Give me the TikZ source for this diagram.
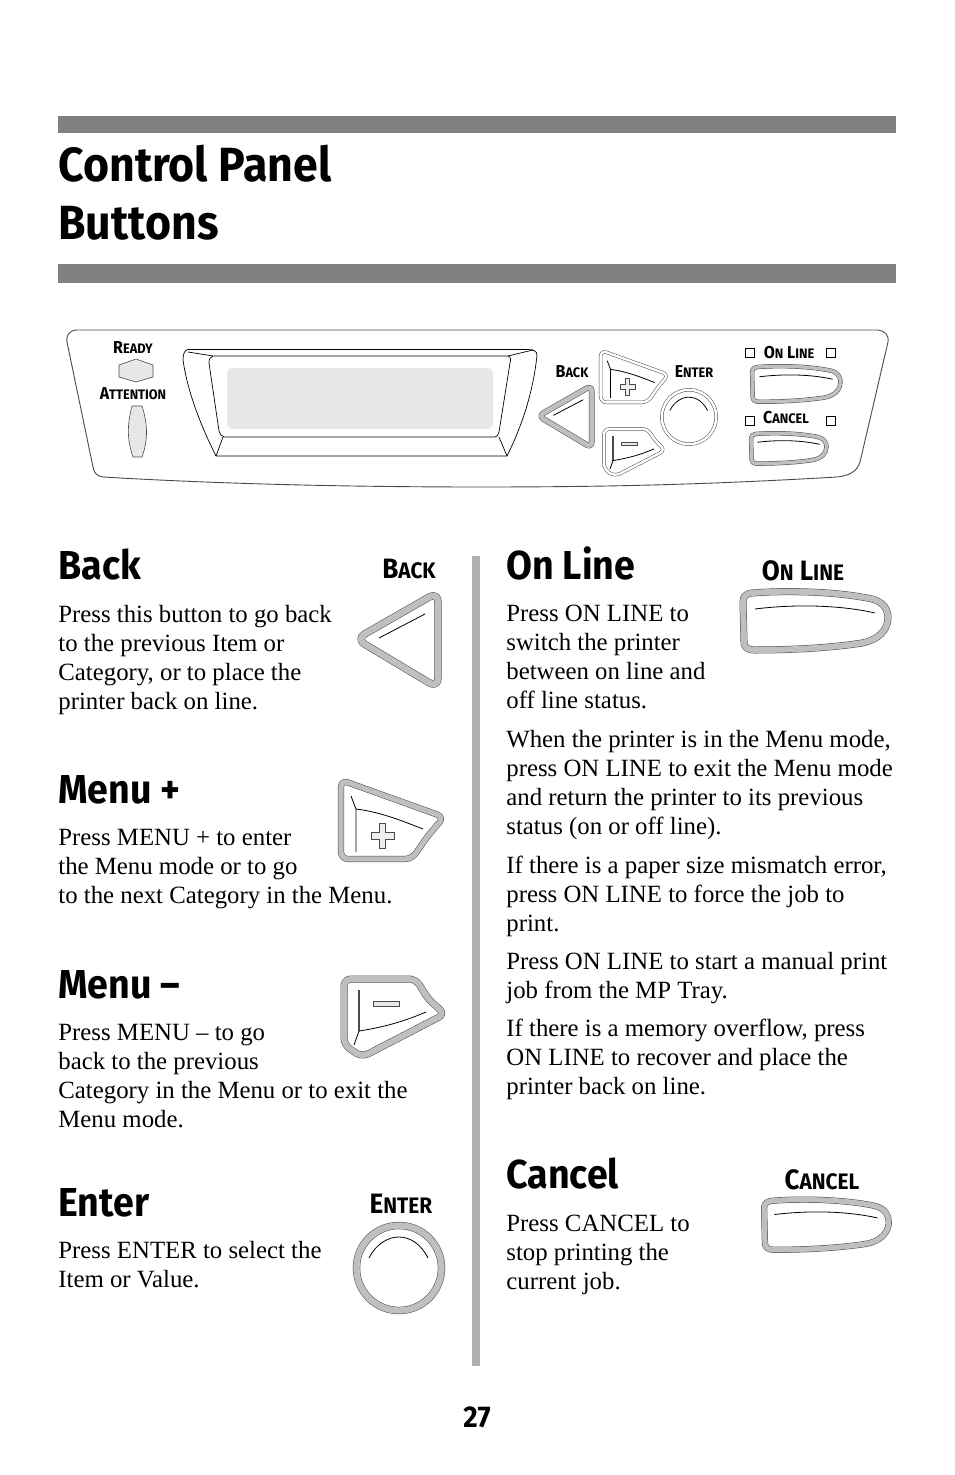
\documentclass[tikz,border=0pt]{standalone}
\usepackage{fontspec}
\setmainfont{Liberation Serif}
\newfontfamily\headfont[FakeStretch=.93]{Fira Sans}
\usepackage{xcolor}
\usepackage{tikz}
\usetikzlibrary{positioning,calc}

\definecolor{bargray}{HTML}{808080}
\definecolor{rulegray}{HTML}{B0B0B0}
\definecolor{ringgray}{HTML}{BDBFC1}
\definecolor{lcdgray}{HTML}{E6E7E8}
\definecolor{edgegray}{HTML}{4A4A4A}
\colorlet{ringcol}{ringgray}

\newcommand{\smcap}[2]{#1\scalebox{.8}{#2}}

\tikzset{
	bar/.style={fill=bargray, draw=none},
	mainhead/.style={anchor=base west, inner sep=0, font=\headfont\bfseries\fontsize{24}{30}\selectfont},
	subhead/.style={anchor=base west, inner sep=0, font=\headfont\bfseries\fontsize{20.2}{24}\selectfont},
	bodytext/.style={anchor=north west, inner sep=0, align=left, font=\fontsize{12.4}{14.5}\selectfont, execute at begin node=\strut},
	biglabel/.style={inner sep=0, font=\headfont\bfseries\fontsize{14}{16}\selectfont},
	panellabel/.style={inner sep=0, font=\headfont\bfseries\fontsize{8.6}{10}\selectfont},
	btnring/.style={draw=edgegray, line width=.25pt, double=ringcol, line join=round, fill=white},
	btnline/.style={draw=black, line width=.4pt},
	led/.style={draw=edgegray, line width=.3pt, fill=lcdgray},
	ledbox/.style={draw=black, line width=.35pt, fill=white},
	pics/backbtn/.style 2 args={code={
		\draw[btnring, double distance=#1, rounded corners=#2] (-44,0) -- (38,-47) -- (38,49) -- cycle;
		\draw[btnline] (-21,-1) -- (25,-25);
	}},
	pics/plusbtn/.style 2 args={code={
		\draw[btnring, double distance=#1, rounded corners=#2] (-49,-42) -- (54,-5) -- (37,15) -- (22,37) -- (-49,37) -- cycle;
		\draw[btnline] (-39,-26) -- (-34,-13) -- (-34,30);
		\draw[btnline] (-34,-13) .. controls (-10,-10) and (10,-2) .. (33,7);
		\draw[led, fill=lcdgray!70] (-19,10) -- (-11,10) -- (-11,1) -- (-5,1) -- (-5,10) -- (4,10) -- (4,17) -- (-5,17) -- (-5,26) -- (-11,26) -- (-11,17) -- (-19,17) -- cycle;
	}},
	pics/minusbtn/.style 2 args={code={
		\draw[btnring, double distance=#1, rounded corners=#2] (-51,-38) -- (21,-38) -- (33,-18) -- (50,-3) -- (-33,40) -- (-51,28) -- cycle;
		\draw[btnline, line width=.6pt, draw=edgegray] (-36,-27) -- (-36,14);
		\draw[btnline] (-36,14) -- (-41,28);
		\draw[btnline] (-36,14) .. controls (-10,10) and (10,4) .. (31,-5);
		\draw[led] (-22,-16) rectangle (4,-11);
	}},
	pics/enterbtn/.style={code={
		\draw[btnring, double distance=#1] (0,0) circle (42.5);
		\draw[btnline] (-30,-10) .. controls (-23,-24) and (-11,-31) .. (0,-31) .. controls (11,-31) and (22,-24) .. (29,-10);
	}},
	pics/longbtn/.style={code={
		\draw[btnring, double distance=#1] (-63,-27) .. controls (-25,-30) and (25,-28) .. (57,-21) .. controls (69,-18) and (73,-10) .. (73,-2) .. controls (73,10) and (63,20) .. (47,23) .. controls (15,28) and (-25,30) .. (-60,30) .. controls (-68,30) and (-71,27) .. (-71,22) -- (-72,-18) .. controls (-72,-24) and (-69,-26) .. (-63,-27) -- cycle;
		\draw[btnline] (-60,-11) .. controls (-20,-16) and (25,-15) .. (60,-7);
	}}
}

\begin{document}
\begin{tikzpicture}[x=.5pt, y=-.5pt]
	\useasboundingbox (0,0) rectangle (954,1475);

	\fill[bar] (58,116) rectangle (896,133);
	\fill[bar] (58,264) rectangle (896,283);
	\fill[rulegray] (472,556) rectangle (480,1366);

	\node[mainhead] (titleone) at (58,182) {Control Panel};
	\node[mainhead] (titletwo) at (58,240) {Buttons};

	\draw[line width=.45pt, draw=edgegray] (67,342) .. controls (66,335) and (69,331) .. (76,330) -- (878,330) .. controls (885,331) and (889,335) .. (888,342) -- (860,462) .. controls (857,472) and (848,476) .. (837,477) .. controls (700,485) and (600,487) .. (480,487) .. controls (350,487) and (220,484) .. (103,477) .. controls (96,476) and (94,472) .. (93,467) -- cycle;

	\draw[line width=.35pt] (188,349.5) -- (528,349.5) .. controls (533,349.5) and (537,351) .. (537,355) .. controls (533,395) and (520,430) .. (507,456) -- (216,456) .. controls (203,430) and (188,395) .. (183,360) .. controls (183,353) and (185,350) .. (188,349.5);
	\draw[line width=.35pt] (213,356) -- (508,356) .. controls (511,357) and (511,360) .. (510,363) -- (499,432) .. controls (498,435) and (497,437) .. (495,437) -- (224,437) .. controls (221,436) and (220,434) .. (219,431) -- (209,363) .. controls (209,359) and (210,357) .. (213,356);
	\draw[line width=.35pt] (188,352) -- (213,356);
	\draw[line width=.35pt] (223,437) -- (216,456);
	\draw[line width=.35pt] (508,356) -- (533,350);
	\draw[line width=.35pt] (499,437) -- (507,456);
	\fill[lcdgray, rounded corners=2.5pt] (227,368) rectangle (493,429);

	\node[panellabel] (readylbl) at (133,348) {\smcap{R}{EADY}};
	\node[panellabel] (attnlbl) at (133,394) {\smcap{A}{TTENTION}};
	\draw[led] (119,365) -- (136,359) -- (153,365) -- (153,377) -- (136,382) -- (119,377) -- cycle;
	\draw[led] (132,406) -- (142,406) .. controls (148,425) and (148,440) .. (142,457) -- (133,457) .. controls (127,440) and (127,425) .. (132,406) -- cycle;

	\node[panellabel] (backlbl) at (572,372) {\smcap{B}{ACK}};
	\node[panellabel] (enterlbl) at (694,372) {\smcap{E}{NTER}};
	\node[panellabel] (onlinelbl) at (789,353) {\smcap{O}{N} \smcap{L}{INE}};
	\node[panellabel] (cancellbl) at (786,418) {\smcap{C}{ANCEL}};

	\draw[ledbox] (745,348) rectangle (754,357);
	\draw[ledbox] (826,348) rectangle (835,357);
	\draw[ledbox] (745,416) rectangle (754,425);
	\draw[ledbox] (826,416) rectangle (835,425);

	\pic[scale=.65] at (567,416) {backbtn={2.4pt}{3pt}};
	\colorlet{ringcol}{white}
	\pic[scale=.66] at (633,378) {plusbtn={1.2pt}{3pt}};
	\pic[scale=.61] at (635,452) {minusbtn={1.2pt}{3pt}};
	\pic[scale=.64] at (689,417) {enterbtn={1.2pt}};
	\colorlet{ringcol}{ringgray}
	\pic[scale=.61] at (796,383.5) {longbtn={1.7pt}};
	\pic[scale=.52] at (788.5,448) {longbtn={1.7pt}};

	\node[subhead] (backhead) at (58,579) {Back};
	\node[biglabel] (backtag) at (409,569) {\smcap{B}{ACK}};
	\node[bodytext] (backtxt) at (58,605) {Press this button to go back\\to the previous Item or\\Category, or to place the\\printer back on line.};
	\pic at (400,639) {backbtn={3.2pt}{5pt}};

	\node[subhead] (plushead) at (58,803) {Menu +};
	\node[bodytext] (plustxt) at (58,829) {Press MENU + to enter\\the Menu mode or to go\\to the next Category in the Menu.};
	\pic at (390,822) {plusbtn={2.6pt}{3.5pt}};

	\node[subhead] (minushead) at (58,998) {Menu –};
	\node[bodytext] (minustxt) at (58,1024) {Press MENU – to go\\back to the previous\\Category in the Menu or to exit the\\Menu mode.};
	\pic at (395,1017) {minusbtn={3pt}{3.5pt}};

	\node[subhead] (enterhead) at (58,1216) {Enter};
	\node[biglabel] (entertag) at (401,1204) {\smcap{E}{NTER}};
	\node[bodytext] (entertxt) at (58,1241) {Press ENTER to select the\\Item or Value.};
	\pic at (399,1268) {enterbtn={3.2pt}};

	\node[subhead] (onlinehead) at (506,579) {On Line};
	\node[biglabel] (onlinetag) at (803,571) {\smcap{O}{N} \smcap{L}{INE}};
	\node[bodytext] (onlinetxt) at (506,605) {Press ON LINE to\\switch the printer\\between on line and\\off line status.};
	\pic at (815,620) {longbtn={3pt}};
	\node[bodytext] (menutxt) at (506,730) {When the printer is in the Menu mode,\\press ON LINE to exit the Menu mode\\and return the printer to its previous\\status (on or off line).};
	\node[bodytext] (mismatchtxt) at (506,856) {If there is a paper size mismatch error,\\press ON LINE to force the job to\\print.};
	\node[bodytext] (manualtxt) at (506,952) {Press ON LINE to start a manual print\\job from the MP Tray.};
	\node[bodytext] (overflowtxt) at (506,1019) {If there is a memory overflow, press\\ON LINE to recover and place the\\printer back on line.};

	\node[subhead] (cancelhead) at (506,1188) {Cancel};
	\node[biglabel] (canceltag) at (822,1180) {\smcap{C}{ANCEL}};
	\node[bodytext] (canceltxt) at (506,1215) {Press CANCEL to\\stop printing the\\current job.};
	\pic[scale=.86] at (826,1224) {longbtn={2.6pt}};

	\node[inner sep=0, font=\headfont\bfseries\fontsize{15}{17}\selectfont] (pagenum) at (477,1417) {27};
\end{tikzpicture}
\end{document}
